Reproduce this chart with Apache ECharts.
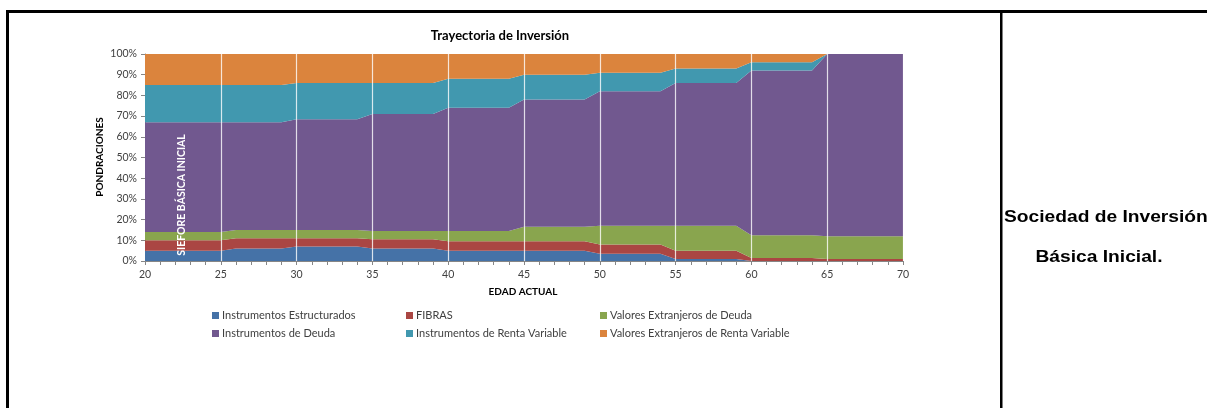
<!DOCTYPE html>
<html><head><meta charset="utf-8">
<script src="https://cdn.jsdelivr.net/npm/echarts@6/dist/echarts.min.js"></script>
<style>html,body{margin:0;padding:0;background:#fff;}#c{width:1207px;height:408px;}</style>
</head><body><div id="c"></div>
<script>
// Ages (x categories)
const ages = [20,21,22,23,24,25,26,27,28,29,30,31,32,33,34,35,36,37,38,39,40,41,42,43,44,45,46,47,48,49,50,51,52,53,54,55,56,57,58,59,60,61,62,63,64,65,66,67,68,69,70];
const seriesNames = ['Instrumentos Estructurados','FIBRAS','Valores Extranjeros de Deuda','Instrumentos de Deuda','Instrumentos de Renta Variable','Valores Extranjeros de Renta Variable'];
const estructurados = [5,5,5,5,5,5, 6,6,6,6, 7,7,7,7,7, 6,6,6,6,6, 5,5,5,5,5, 5,5,5,5,5, 3.5,3.5,3.5,3.5,3.5, 1,1,1,1,1, 0,0,0,0,0, 0,0,0,0,0,0];
const fibras = [5,5,5,5,5,5, 5,5,5,5, 4,4,4,4,4, 4.5,4.5,4.5,4.5,4.5, 4.5,4.5,4.5,4.5,4.5, 4.5,4.5,4.5,4.5,4.5, 4.5,4.5,4.5,4.5,4.5, 4,4,4,4,4, 1.5,1.5,1.5,1.5,1.5, 1,1,1,1,1,1];
const extDeuda = [4,4,4,4,4,4, 4,4,4,4, 4,4,4,4,4, 4,4,4,4,4, 5,5,5,5,5, 7,7,7,7,7, 9,9,9,9,9, 12,12,12,12,12, 11,11,11,11,11, 11,11,11,11,11,11];
const deuda = [53,53,53,53,53,53, 52,52,52,52, 53.5,53.5,53.5,53.5,53.5, 56.5,56.5,56.5,56.5,56.5, 59.5,59.5,59.5,59.5,59.5, 61.5,61.5,61.5,61.5,61.5, 65,65,65,65,65, 69,69,69,69,69, 79.5,79.5,79.5,79.5,79.5, 88,88,88,88,88,88];
const rentaVar = [18,18,18,18,18,18, 18,18,18,18, 17.5,17.5,17.5,17.5,17.5, 15,15,15,15,15, 14,14,14,14,14, 12,12,12,12,12, 9,9,9,9,9, 7,7,7,7,7, 4,4,4,4,4, 0,0,0,0,0,0];
const extRentaVar = [15,15,15,15,15,15, 15,15,15,15, 14,14,14,14,14, 14,14,14,14,14, 12,12,12,12,12, 10,10,10,10,10, 9,9,9,9,9, 7,7,7,7,7, 4,4,4,4,4, 0,0,0,0,0,0];
const yTicks = [0,10,20,30,40,50,60,70,80,90,100];
const xTicks = [20,25,30,35,40,45,50,55,60,65,70];

const colors = ['#4572A7','#AA4643','#89A54E','#71588F','#4198AF','#DB843D'];
const values = [estructurados, fibras, extDeuda, deuda, rentaVar, extRentaVar];
const FONT = 'Lato';

const chart = echarts.init(document.getElementById('c'), null, {renderer:'canvas'});
const series = values.map((arr, i) => ({
  name: seriesNames[i], type: 'line', stack: 'total', symbol: 'none',
  data: arr.slice(),
  lineStyle: {width: 0}, areaStyle: {color: colors[i], opacity: 1},
  itemStyle: {color: colors[i]}, z: 2, silent: true
}));

const legendPos = [[212,310],[406,310],[600,310],[212,328],[406,328],[600,328]];
const legends = seriesNames.map((n, i) => ({
  data: [n], left: legendPos[i][0], top: legendPos[i][1], icon: 'rect',
  itemWidth: 7, itemHeight: 7, padding: 0, selectedMode: false,
  textStyle: {fontFamily: FONT, fontSize: 11, color: '#404040', padding: [0,0,0,-2]}
}));

chart.setOption({
  animation: false,
  color: colors,
  grid: {left: 145, right: 304, top: 54, bottom: 147},
  legend: legends,
  xAxis: {
    type: 'category', data: ages.map(String), boundaryGap: false, z: 5,
    axisLine: {show: true, lineStyle: {color: '#868686', width: 1}},
    axisTick: {show: true, length: 4, interval: 0, lineStyle: {color: '#868686'}},
    axisLabel: {fontFamily: FONT, fontSize: 10.5, color: '#404040', margin: 8, interval: 0,
      formatter: v => xTicks.includes(Number(v)) ? v : ''},
    splitLine: {show: true, interval: (idx, v) => xTicks.includes(Number(v)) && Number(v) > 20, lineStyle: {color: '#ffffff', width: 1.2, opacity: 0.8}}
  },
  yAxis: {
    type: 'value', min: 0, max: 100, interval: 10,
    axisLine: {show: true, lineStyle: {color: '#868686', width: 1}},
    axisTick: {show: true, length: 4, lineStyle: {color: '#868686'}},
    axisLabel: {fontFamily: FONT, fontSize: 10.5, color: '#404040', margin: 8,
      formatter: v => yTicks.includes(v) ? v + '%' : ''},
    splitLine: {show: false}
  },
  series: series,
  graphic: [
    {type: 'rect', shape: {x: 6, y: 10, width: 1201, height: 3}, style: {fill: '#000'}, z: 100},
    {type: 'rect', shape: {x: 6, y: 10, width: 3, height: 398}, style: {fill: '#000'}, z: 100},
    {type: 'rect', shape: {x: 1000, y: 10, width: 2.5, height: 398}, style: {fill: '#000'}, z: 100},
    {type: 'text', x: 500, y: 36, z: 100, style: {text: 'Trayectoria de Inversión', fontFamily: FONT, fontWeight: 'bold', fontSize: 13, fill: '#000', textAlign: 'center', textVerticalAlign: 'middle'}},
    {type: 'text', x: 100, y: 157, rotation: Math.PI/2, z: 100, style: {text: 'PONDRACIONES', fontFamily: FONT, fontWeight: 'bold', fontSize: 10, fill: '#000', textAlign: 'center', textVerticalAlign: 'middle'}},
    {type: 'text', x: 523, y: 292, z: 100, style: {text: 'EDAD ACTUAL', fontFamily: FONT, fontWeight: 'bold', fontSize: 10, fill: '#000', textAlign: 'center', textVerticalAlign: 'middle'}},
    {type: 'text', x: 182, y: 195, rotation: Math.PI/2, z: 100, style: {text: 'SIEFORE BÁSICA INICIAL', fontFamily: FONT, fontWeight: 'bold', fontSize: 10.5, fill: '#fff', textAlign: 'center', textVerticalAlign: 'middle'}},
    {type: 'text', x: 1004, y: 218, z: 100, scaleX: 1.2, style: {text: 'Sociedad de Inversión', fontFamily: 'Liberation Sans', fontWeight: 'bold', fontSize: 16, fill: '#000', textAlign: 'left', textVerticalAlign: 'middle'}},
    {type: 'text', x: 1099, y: 258, z: 100, scaleX: 1.2, style: {text: 'Básica Inicial.', fontFamily: 'Liberation Sans', fontWeight: 'bold', fontSize: 16, fill: '#000', textAlign: 'center', textVerticalAlign: 'middle'}}
  ]
});
</script>
</body></html>
